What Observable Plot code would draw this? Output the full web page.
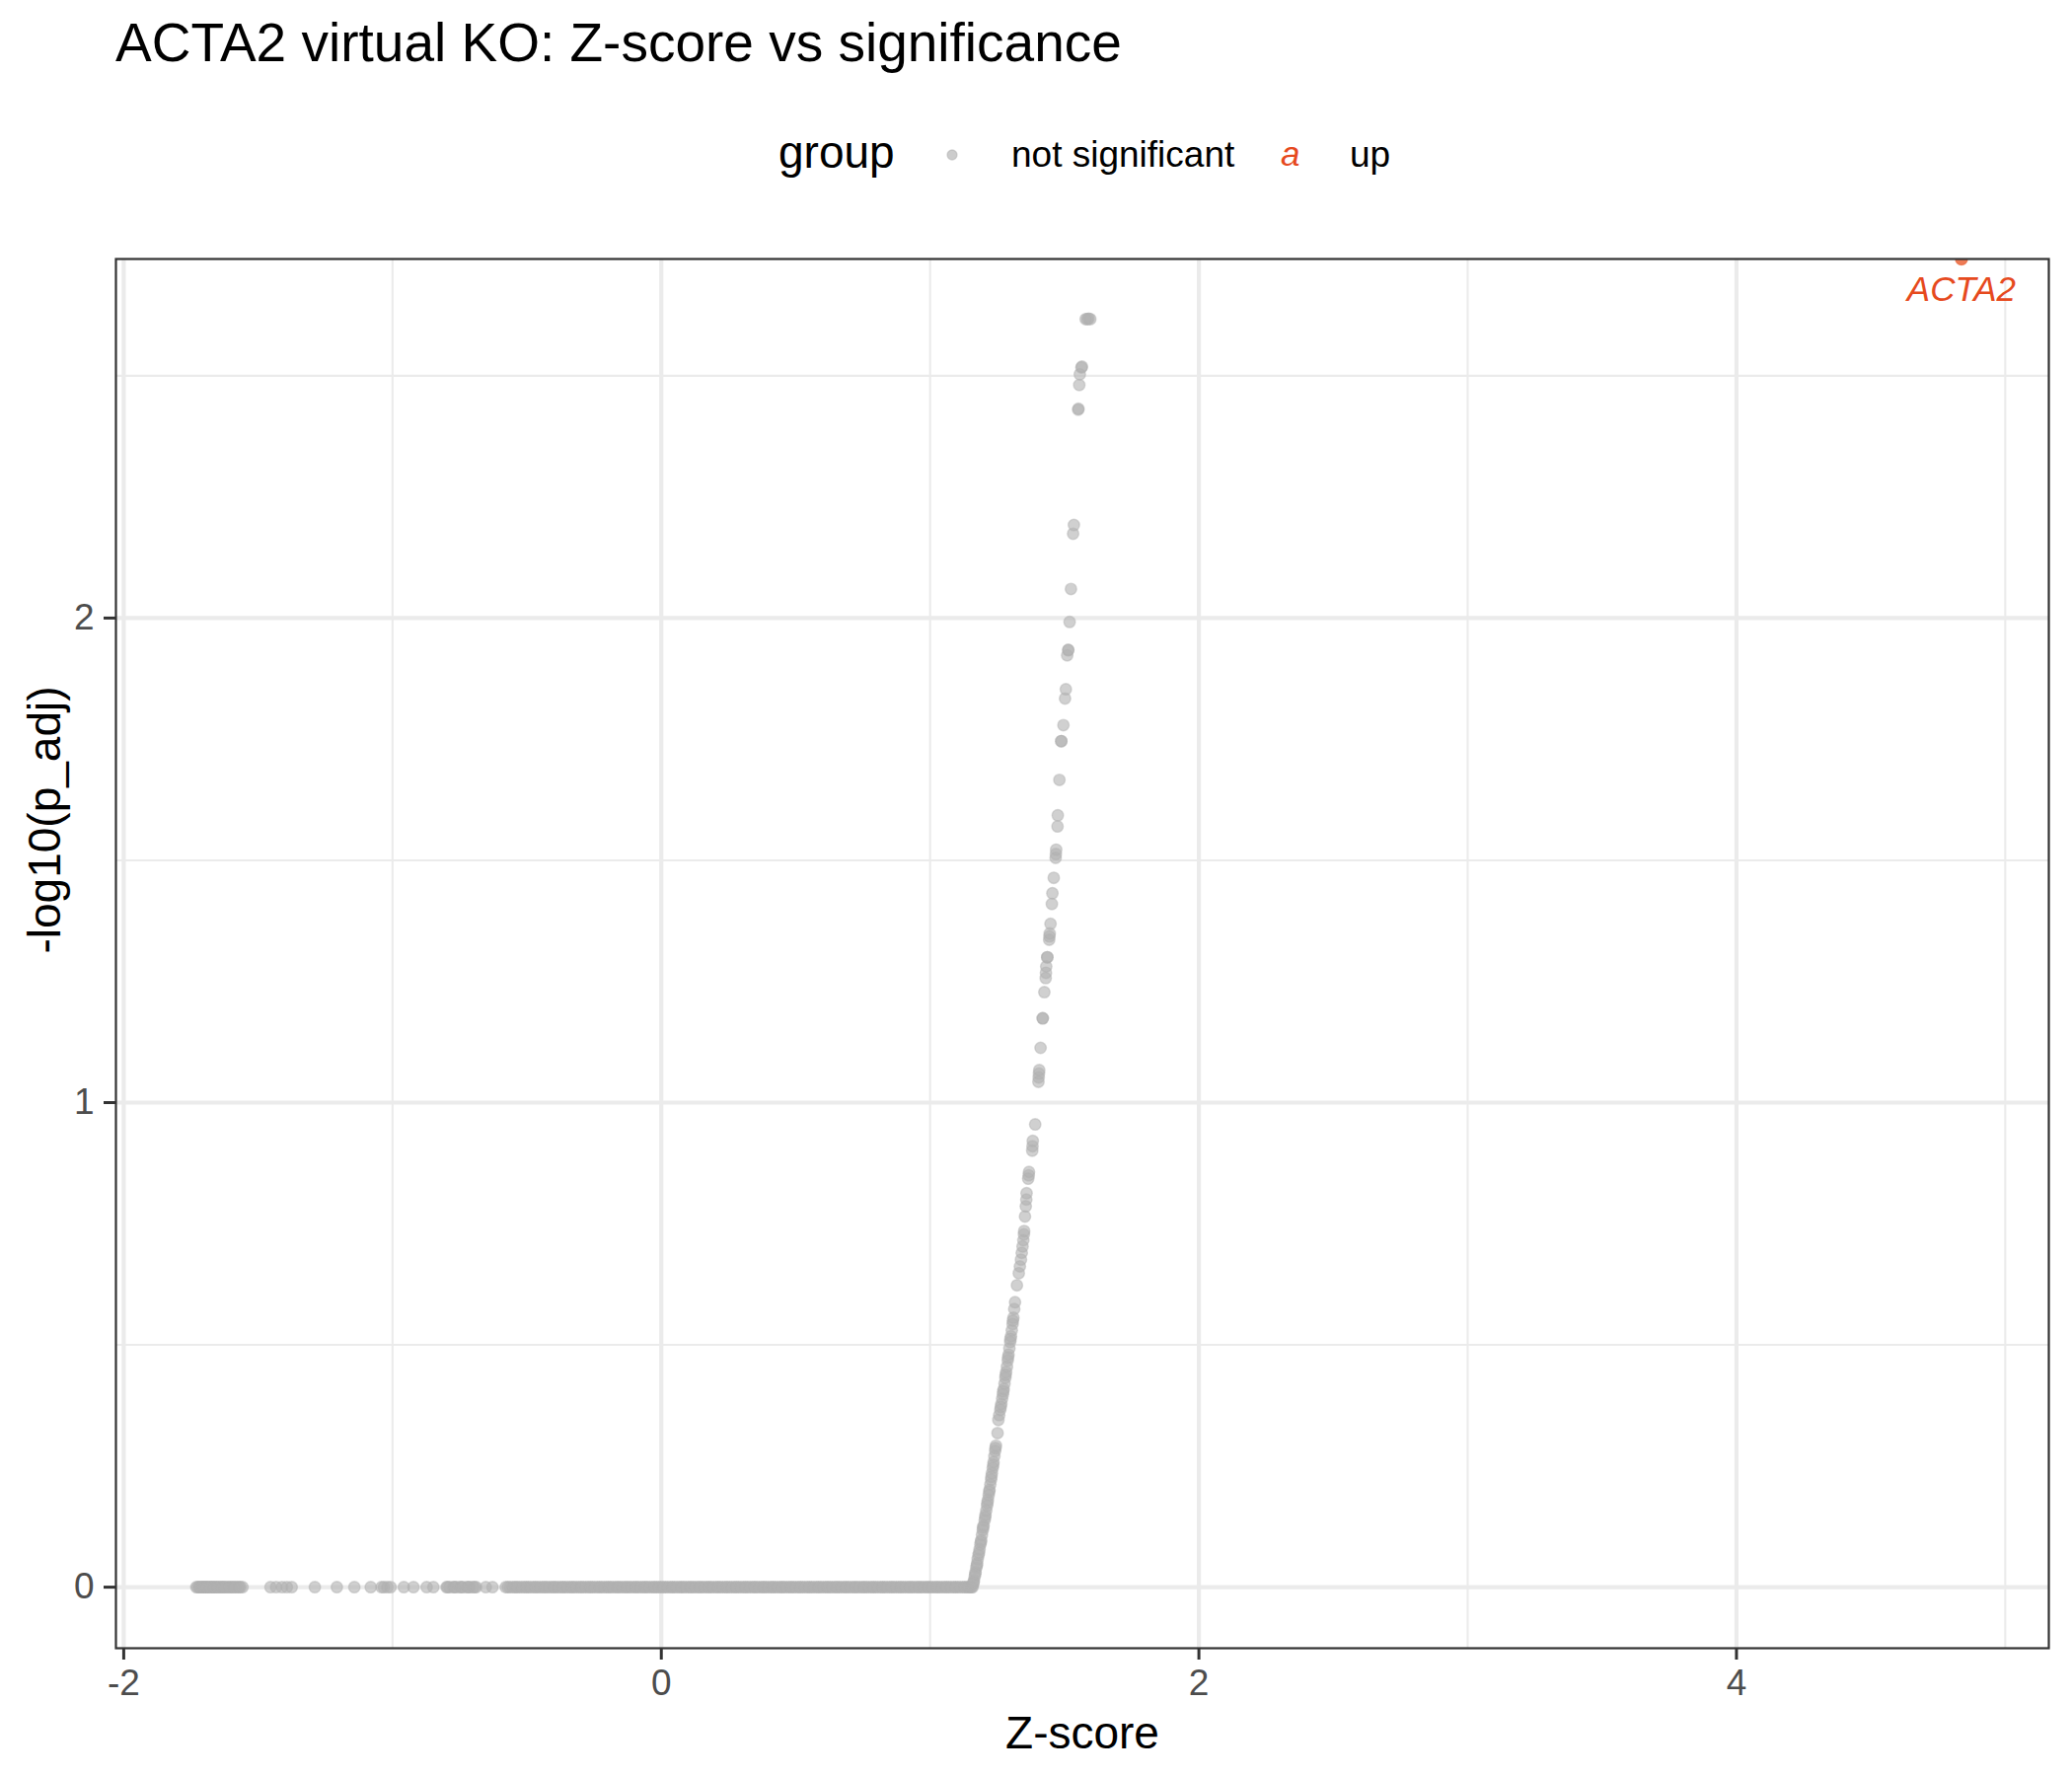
<!DOCTYPE html>
<html>
<head>
<meta charset="utf-8">
<script src="https://cdn.jsdelivr.net/npm/d3@7"></script>
<script src="https://cdn.jsdelivr.net/npm/@observablehq/plot@0.6"></script>
<style>
  html, body { margin: 0; padding: 0; background: #ffffff; }
  #page { position: relative; width: 2100px; height: 1800px; font-family: "Liberation Sans", Arial, Helvetica, sans-serif; background: #fff; overflow: hidden; }
  #header { position: relative; width: 2100px; height: 230px; }
  .t { position: absolute; white-space: nowrap; line-height: 1; color: #000; }
  #chart svg { display: block; }
</style>
</head>
<body>
<div id="page">
  <div id="header"></div>
  <div id="chart"></div>
</div>
<script>
// ---------- texts ----------
const titleText = "ACTA2 virtual KO: Z-score vs significance";
const xLabel = "Z-score";
const yLabel = "-log10(p_adj)";
const legendTitle = "group";
const groupNames = ["not significant", "up"];

// ---------- ticks ----------
const xTicks = [-2, 0, 2, 4];
const xMinor = [-1, 1, 3, 5];
const yTicks = [0, 1, 2];
const yMinor = [0.5, 1.5, 2.5];

// ---------- not significant: genes with -log10(p_adj) = 0 (Z-score values) ----------
const nsZeroX = [
  -1.730, -1.725, -1.719, -1.712, -1.707, -1.700, -1.695, -1.688, -1.682, -1.674, -1.669, -1.661,
  -1.655, -1.646, -1.639, -1.631, -1.620, -1.613, -1.602, -1.595, -1.584, -1.577, -1.566, -1.558,
  -1.454, -1.433, -1.411, -1.393, -1.375, -1.289, -1.207, -1.142, -1.081, -1.041, -1.032, -1.019,
  -1.007, -0.958, -0.922, -0.873, -0.848,
  -0.799, -0.788, -0.774, -0.763, -0.749, -0.739, -0.724, -0.713, -0.701, -0.689, -0.653, -0.628,
  -0.579, -0.563, -0.544, -0.529, -0.510, -0.495, -0.476, -0.461, -0.442, -0.427, -0.408, -0.393,
  -0.374, -0.359, -0.340, -0.325, -0.306, -0.291, -0.272, -0.257, -0.238, -0.223, -0.204, -0.189,
  -0.170, -0.155, -0.136, -0.121, -0.102, -0.087, -0.068, -0.053, -0.034, -0.019, -0.002, 0.015,
  0.034, 0.049, 0.068, 0.083, 0.102, 0.117, 0.136, 0.151, 0.170, 0.185, 0.204, 0.219,
  0.238, 0.253, 0.272, 0.287, 0.306, 0.321, 0.340, 0.355, 0.374, 0.389, 0.408, 0.423,
  0.442, 0.457, 0.476, 0.491, 0.510, 0.525, 0.544, 0.559, 0.578, 0.593, 0.612, 0.627,
  0.646, 0.661, 0.680, 0.695, 0.714, 0.729, 0.748, 0.763, 0.782, 0.797, 0.816, 0.831,
  0.850, 0.865, 0.884, 0.899, 0.918, 0.933, 0.952, 0.967, 0.986, 1.001, 1.020, 1.035,
  1.054, 1.069, 1.088, 1.103, 1.122, 1.137, 1.149, 1.158,
  // more genes in the crowded part of the zero line
  -0.571, -0.552, -0.537, -0.519, -0.502, -0.486, -0.468, -0.451, -0.434, -0.417, -0.400, -0.384,
  -0.366, -0.349, -0.332, -0.316, -0.298, -0.281, -0.264, -0.248, -0.230, -0.213, -0.196, -0.180,
  -0.162, -0.145, -0.128, -0.112, -0.094, -0.077, -0.060, -0.044, -0.026, -0.010, 0.007, 0.024,
  0.041, 0.058, 0.075, 0.092, 0.109, 0.126, 0.143, 0.160, 0.177, 0.194, 0.211, 0.228,
  0.245, 0.262, 0.279, 0.296, 0.313, 0.330, 0.347, 0.364, 0.381, 0.398, 0.415, 0.432,
  0.449, 0.466, 0.483, 0.500, 0.517, 0.534, 0.551, 0.568, 0.585, 0.602, 0.619, 0.636,
  0.653, 0.670, 0.687, 0.704, 0.721, 0.738, 0.755, 0.772, 0.789, 0.806, 0.823, 0.840,
  0.857, 0.874, 0.891, 0.908, 0.925, 0.942, 0.959, 0.976, 0.993, 1.010, 1.027, 1.044,
  1.061, 1.078, 1.095, 1.112, 1.129, 1.143, 1.154,
  -1.716, -1.703, -1.691, -1.678, -1.664, -1.650, -1.635, -1.625, -1.607, -1.590, -1.571,
  -0.795, -0.769, -0.744, -0.718, -0.695
];

// ---------- not significant: genes on the rising branch ----------
const nsCurveX = [
  1.160, 1.163, 1.166, 1.169, 1.172, 1.175, 1.177, 1.180, 1.184, 1.187, 1.190, 1.193,
  1.196, 1.199, 1.203, 1.206, 1.209, 1.212, 1.215, 1.218, 1.221, 1.224, 1.227, 1.230,
  1.233, 1.236, 1.239, 1.242, 1.245, 1.251, 1.254, 1.257, 1.261, 1.265, 1.268, 1.271,
  1.274, 1.277, 1.280, 1.283, 1.286, 1.289, 1.292, 1.295, 1.298, 1.301, 1.304, 1.307,
  1.310, 1.313, 1.316, 1.323, 1.330, 1.334, 1.338, 1.341, 1.344, 1.347, 1.349, 1.350,
  1.353, 1.356, 1.358, 1.359, 1.365, 1.367, 1.368, 1.380, 1.381, 1.382, 1.391, 1.403,
  1.404, 1.405, 1.406, 1.411, 1.419, 1.419, 1.425, 1.430, 1.431, 1.432, 1.436, 1.436,
  1.443, 1.444, 1.445, 1.448, 1.453, 1.455, 1.460, 1.467, 1.468, 1.469, 1.474, 1.475,
  1.481, 1.488, 1.488, 1.496, 1.502, 1.505, 1.510, 1.514, 1.514, 1.519, 1.524, 1.532,
  1.535, 1.551, 1.552, 1.555, 1.557, 1.563, 1.565, 1.579, 1.585, 1.590, 1.596,
  1.162, 1.168, 1.174, 1.182, 1.189, 1.197, 1.205, 1.213, 1.220, 1.228, 1.235, 1.243,
  1.263, 1.272, 1.281, 1.290, 1.299, 1.308
];
const nsCurveY = [
  0.006, 0.014, 0.022, 0.031, 0.040, 0.049, 0.058, 0.066, 0.078, 0.088, 0.097, 0.108,
  0.118, 0.127, 0.138, 0.149, 0.158, 0.168, 0.180, 0.190, 0.201, 0.212, 0.222, 0.235,
  0.246, 0.258, 0.270, 0.281, 0.292, 0.318, 0.345, 0.355, 0.366, 0.378, 0.389, 0.398,
  0.409, 0.420, 0.432, 0.444, 0.455, 0.468, 0.480, 0.493, 0.506, 0.518, 0.530, 0.543,
  0.556, 0.574, 0.588, 0.623, 0.648, 0.662, 0.676, 0.690, 0.703, 0.716, 0.728, 0.735,
  0.765, 0.786, 0.800, 0.813, 0.843, 0.850, 0.857, 0.901, 0.910, 0.921, 0.955, 1.043,
  1.052, 1.060, 1.067, 1.113, 1.174, 1.174, 1.228, 1.257, 1.268, 1.281, 1.300, 1.300,
  1.336, 1.343, 1.349, 1.369, 1.410, 1.432, 1.464, 1.505, 1.513, 1.522, 1.570, 1.593,
  1.666, 1.746, 1.746, 1.779, 1.834, 1.853, 1.923, 1.934, 1.934, 1.992, 2.060, 2.174,
  2.192, 2.430, 2.432, 2.481, 2.503, 2.517, 2.519, 2.617, 2.617, 2.618, 2.617,
  0.010, 0.027, 0.045, 0.071, 0.093, 0.123, 0.144, 0.174, 0.197, 0.228, 0.252, 0.287,
  0.372, 0.404, 0.438, 0.474, 0.512, 0.550
];

// ---------- up ----------
const upGenes = ["ACTA2"];
const upX = [4.837];
const upY = [2.741];

// ---------- colours ----------
const colNS = "#b0b0b0";
const colUp = "#E8501E";
const colLabel = "#E64A1E";

// ---------- build data ----------
const nsData = nsZeroX.map(x => ({x, y: 0, group: groupNames[0]}))
  .concat(nsCurveX.map((x, i) => ({x, y: nsCurveY[i], group: groupNames[0]})));
const upData = upGenes.map((g, i) => ({gene: g, x: upX[i], y: upY[i], group: groupNames[1]}));

const FONT = "Liberation Sans, Arial, Helvetica, sans-serif";

// ---------- header: title + legend ----------
const header = document.getElementById("header");
function addText(txt, left, baseline, size, opts = {}) {
  const d = document.createElement("div");
  d.className = "t";
  d.textContent = txt;
  d.style.fontSize = size + "px";
  d.style.left = left + "px";
  d.style.top = (baseline - 0.8465 * size) + "px";
  if (opts.color) d.style.color = opts.color;
  if (opts.italic) d.style.fontStyle = "italic";
  header.appendChild(d);
  return d;
}
addText(titleText, 117, 63, 55);
addText(legendTitle, 789, 170, 46);
// legend key: point
const keySvg = document.createElementNS("http://www.w3.org/2000/svg", "svg");
keySvg.setAttribute("width", "30"); keySvg.setAttribute("height", "30");
keySvg.style.position = "absolute"; keySvg.style.left = (965 - 15) + "px"; keySvg.style.top = (157 - 15) + "px";
const c = document.createElementNS("http://www.w3.org/2000/svg", "circle");
c.setAttribute("cx", "15"); c.setAttribute("cy", "15"); c.setAttribute("r", "5");
c.setAttribute("fill", colNS); c.setAttribute("fill-opacity", "0.65");
c.setAttribute("stroke", colNS); c.setAttribute("stroke-opacity", "0.5"); c.setAttribute("stroke-width", "1.3");
keySvg.appendChild(c);
header.appendChild(keySvg);
addText(groupNames[0], 1025, 169, 37);
// legend key: text glyph
addText("a", 1298, 168, 35, {color: colLabel, italic: true});
addText(groupNames[1], 1368, 169, 37);

// ---------- chart ----------
const plot = Plot.plot({
  width: 2100,
  height: 1570,
  marginTop: 32,
  marginBottom: 130,
  marginLeft: 117,
  marginRight: 24,
  style: {fontFamily: FONT, background: "#ffffff", overflow: "visible"},
  x: {domain: [-2.029, 5.162]},
  y: {domain: [-0.126, 2.741]},
  marks: [
    Plot.gridX(xMinor, {stroke: "#ebebeb", strokeOpacity: 1, strokeWidth: 2.1}),
    Plot.gridY(yMinor, {stroke: "#ebebeb", strokeOpacity: 1, strokeWidth: 2.1}),
    Plot.gridX(xTicks, {stroke: "#ebebeb", strokeOpacity: 1, strokeWidth: 4.2}),
    Plot.gridY(yTicks, {stroke: "#ebebeb", strokeOpacity: 1, strokeWidth: 4.2}),
    Plot.dot(nsData, {
      x: "x", y: "y", r: 5.8,
      fill: colNS, fillOpacity: 0.6,
      stroke: colNS, strokeOpacity: 0.45, strokeWidth: 1.4
    }),
    Plot.dot(upData, {
      x: "x", y: "y", r: 6.2, clip: true,
      fill: colUp, fillOpacity: 0.75,
      stroke: colUp, strokeOpacity: 0.5, strokeWidth: 1.2
    }),
    Plot.text(upData, {
      x: "x", y: "y", text: "gene", dy: 42, lineAnchor: "bottom",
      fill: colLabel, fontSize: 35, fontStyle: "italic"
    }),
    Plot.frame({stroke: "#333333", strokeWidth: 2.2}),
    Plot.axisX(xTicks, {
      tickSize: 12, tickPadding: 9, fontSize: 37,
      stroke: "#333333", strokeWidth: 3, fill: "#4d4d4d",
      tickFormat: d => String(d), label: null
    }),
    Plot.axisY(yTicks, {
      tickSize: 12, tickPadding: 10, fontSize: 37,
      stroke: "#333333", strokeWidth: 3, fill: "#4d4d4d",
      tickFormat: d => String(d), label: null
    }),
    Plot.text([xLabel], {
      text: d => d, frameAnchor: "bottom", dy: 101, lineAnchor: "bottom",
      fontSize: 46, fill: "#000000"
    }),
    Plot.text([yLabel], {
      text: d => d, frameAnchor: "left", dx: -57, rotate: -90, lineAnchor: "bottom",
      fontSize: 46, fill: "#000000"
    })
  ]
});
document.getElementById("chart").appendChild(plot);
</script>
</body>
</html>
